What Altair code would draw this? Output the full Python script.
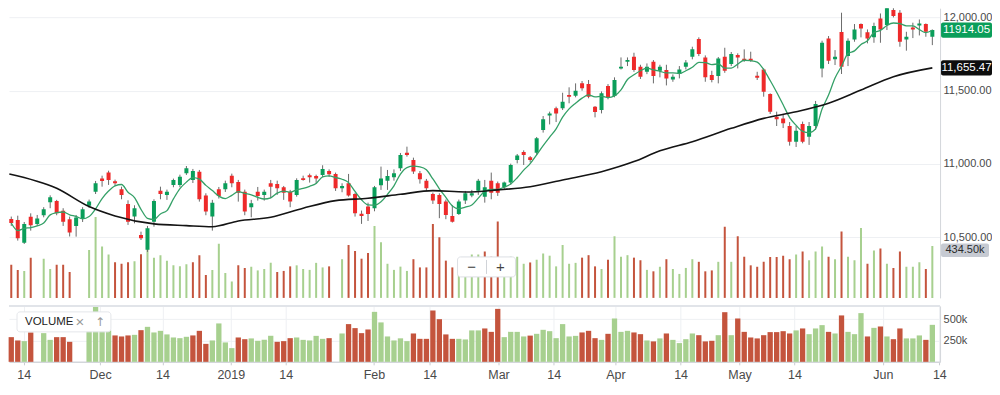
import altair as alt
import pandas as pd

# ---------------- data ----------------
opens = [10625, 10618, 10463, 10640, 10591, 10650, 10739, 10748, 10681, 10623,
         10577, 10625, 10714, 10811, 10900, 10941, 10882, 10827, 10727, 10641,
         10516, 10414, 10606, 10818, 10789, 10857, 10857, 10936, 10891, 10947,
         10784, 10641, 10827, 10827, 10920, 10877, 10811, 10705, 10811, 10789,
         10868, 10864, 10841, 10811, 10789, 10902, 10923, 10918, 10925, 10952,
         10932, 10834, 10868, 10795, 10661, 10709, 10698, 10855, 10886, 10909,
         10970, 11077, 11027, 10936, 10886, 10795, 10789, 10743, 10645, 10659,
         10750, 10784, 10818, 10777, 10886, 10868, 10841, 10873, 11027, 11082,
         11045, 11077, 11232, 11330, 11380, 11380, 11470, 11466, 11550, 11545,
         11390, 11368, 11532, 11464, 11652, 11697, 11732, 11663, 11629, 11697,
         11636, 11641, 11577, 11614, 11663, 11732, 11852, 11727, 11607, 11600,
         11732, 11682, 11743, 11718, 11718, 11602, 11645, 11477, 11323, 11311,
         11259, 11152, 11273, 11186, 11259, 11652, 11857, 11714, 11900, 11736,
         11850, 11955, 11898, 11864, 11993, 11948, 12050, 12032, 11850, 11932,
         11945, 11955, 11868]
highs = [10641, 10647, 10604, 10663, 10652, 10705, 10786, 10755, 10698, 10641,
         10652, 10705, 10757, 10884, 10920, 10954, 10893, 10845, 10752, 10718,
         10538, 10577, 10759, 10845, 10825, 10900, 10927, 10986, 10966, 10959,
         10800, 10755, 10843, 10886, 10934, 10891, 10825, 10755, 10843, 10825,
         10891, 10886, 10850, 10823, 10902, 10920, 10934, 10927, 10991, 10963,
         10941, 10868, 10932, 10804, 10682, 10736, 10850, 10982, 10959, 10963,
         11075, 11118, 11043, 10952, 10898, 10805, 10800, 10757, 10720, 10757,
         10816, 10823, 10898, 10891, 10941, 10880, 10880, 11002, 11068, 11093,
         11054, 11184, 11327, 11357, 11391, 11486, 11523, 11550, 11566, 11573,
         11395, 11495, 11545, 11591, 11727, 11727, 11759, 11677, 11686, 11709,
         11677, 11677, 11611, 11668, 11709, 11800, 11864, 11741, 11636, 11730,
         11793, 11764, 11755, 11782, 11766, 11629, 11652, 11482, 11357, 11339,
         11286, 11259, 11289, 11286, 11430, 11841, 11873, 11777, 12032, 11857,
         11955, 11959, 11918, 11964, 12027, 12091, 12084, 12050, 11902, 11964,
         11986, 11959, 11918]
lows = [10577, 10477, 10454, 10545, 10577, 10636, 10698, 10650, 10577, 10505,
        10504, 10604, 10700, 10795, 10845, 10857, 10850, 10759, 10584, 10595,
        10481, 10400, 10572, 10759, 10755, 10841, 10841, 10925, 10870, 10743,
        10650, 10545, 10764, 10809, 10841, 10743, 10650, 10636, 10750, 10750,
        10766, 10789, 10755, 10705, 10777, 10886, 10873, 10866, 10911, 10911,
        10816, 10807, 10777, 10641, 10591, 10611, 10677, 10823, 10823, 10886,
        10952, 11050, 10932, 10866, 10816, 10727, 10630, 10623, 10600, 10652,
        10727, 10773, 10789, 10736, 10759, 10782, 10827, 10859, 11004, 10993,
        11011, 11061, 11214, 11270, 11286, 11368, 11414, 11455, 11500, 11448,
        11318, 11345, 11441, 11455, 11645, 11668, 11629, 11580, 11613, 11550,
        11591, 11536, 11561, 11584, 11645, 11714, 11736, 11561, 11557, 11550,
        11622, 11668, 11652, 11697, 11697, 11573, 11459, 11341, 11259, 11245,
        11125, 11116, 11141, 11130, 11232, 11591, 11682, 11675, 11614, 11668,
        11834, 11864, 11823, 11827, 11827, 11914, 12000, 11800, 11773, 11859,
        11877, 11868, 11811]
closes = [10597, 10493, 10591, 10582, 10627, 10691, 10773, 10664, 10606, 10532,
          10634, 10691, 10743, 10868, 10884, 10891, 10868, 10788, 10606, 10698,
          10493, 10561, 10748, 10795, 10811, 10891, 10913, 10970, 10952, 10759,
          10675, 10736, 10782, 10868, 10868, 10804, 10675, 10732, 10782, 10811,
          10845, 10834, 10804, 10743, 10891, 10891, 10909, 10900, 10966, 10929,
          10834, 10850, 10784, 10664, 10645, 10659, 10841, 10900, 10918, 10936,
          11061, 11061, 10948, 10895, 10834, 10750, 10727, 10652, 10606, 10743,
          10800, 10800, 10886, 10841, 10804, 10804, 10873, 10993, 11057, 11061,
          11027, 11175, 11305, 11345, 11345, 11425, 11459, 11500, 11516, 11459,
          11354, 11482, 11455, 11573, 11663, 11709, 11641, 11595, 11663, 11600,
          11663, 11584, 11595, 11645, 11693, 11782, 11750, 11591, 11573, 11720,
          11636, 11750, 11727, 11705, 11705, 11588, 11493, 11357, 11305, 11277,
          11152, 11227, 11152, 11259, 11409, 11827, 11705, 11732, 11663, 11841,
          11918, 11925, 11857, 11941, 11918, 12084, 12009, 11834, 11868, 11918,
          11959, 11902, 11914.05]
volumes_k = [290, 251, 243, 345, 0, 337, 258, 290, 290, 235,
             0, 0, 404, 657, 430, 370, 310, 298, 310, 317,
             372, 411, 345, 364, 322, 286, 278, 294, 310, 364,
             211, 251, 451, 228, 161, 286, 266, 275, 247, 258,
             306, 235, 243, 278, 286, 258, 251, 305, 270, 278,
             0, 333, 443, 396, 337, 380, 587, 463, 298, 251,
             276, 243, 333, 270, 270, 603, 501, 322, 270, 270,
             263, 369, 369, 392, 352, 622, 290, 352, 352, 298,
             308, 329, 376, 360, 278, 443, 298, 305, 345, 364,
             278, 258, 329, 509, 352, 364, 345, 325, 251, 240,
             275, 333, 258, 220, 266, 333, 313, 240, 247, 313,
             583, 313, 509, 352, 286, 275, 313, 349, 349, 360,
             333, 369, 392, 325, 392, 431, 352, 333, 545, 352,
             325, 572, 298, 399, 415, 298, 266, 392, 275, 275,
             310, 258, 434.5]
vol_up = [0, 0, 1, 0, 1, 1, 1, 0, 0, 0,
          1, 1, 1, 1, 1, 1, 0, 0, 0, 1,
          0, 1, 1, 1, 1, 1, 1, 1, 0, 0,
          0, 1, 1, 1, 1, 0, 0, 1, 1, 1,
          1, 0, 0, 0, 1, 1, 1, 1, 1, 0,
          0, 1, 0, 0, 0, 0, 1, 1, 1, 1,
          1, 1, 0, 0, 0, 0, 0, 0, 0, 1,
          1, 1, 1, 0, 0, 0, 1, 1, 1, 1,
          0, 1, 1, 1, 1, 1, 1, 1, 0, 0,
          0, 1, 0, 1, 1, 1, 0, 0, 1, 0,
          1, 0, 1, 1, 1, 1, 0, 0, 0, 1,
          0, 1, 0, 0, 0, 0, 0, 0, 0, 0,
          0, 1, 0, 1, 1, 1, 0, 1, 0, 1,
          1, 1, 0, 1, 0, 1, 0, 0, 1, 1,
          1, 0, 1]
# long moving average (black line), read at sample bars
ma_long_idx = [-0.3, 7, 12, 16, 22, 27, 31, 35, 40, 45, 50, 55, 60, 65, 70,
               75, 80, 85, 91, 96, 100, 105, 111, 116, 121, 126, 131, 136, 142]
ma_long_val = [10932, 10834, 10709, 10645, 10591, 10579, 10572, 10611, 10636,
               10698, 10750, 10766, 10793, 10818, 10809, 10823, 10845, 10891,
               10947, 11016, 11090, 11152, 11243, 11311, 11356, 11414, 11504,
               11595, 11655.47]
tick_pos = [1.91, 13.71, 23.32, 33.84, 42.31, 55.91, 64.49, 75.12, 83.63,
            93.13, 103.19, 112.28, 120.75, 134.36, 143.08]
tick_labels = ["14", "Dec", "14", "2019", "14", "Feb", "14", "Mar", "14",
               "Apr", "14", "May", "14", "Jun", "14"]
price_ticks = [10500, 11000, 11500, 12000]
vol_ticks = [250, 500]
last_close = 11914.05
last_ma = 11655.47
last_vol = 434.5

# ---------------- styling ----------------
W, H1, H2 = 932, 290, 56
UP, DOWN = "#0a9e5a", "#ee2a2a"
VUP, VDOWN = "#a7d08f", "#c4543d"
WICK = "#6a6a6a"
GRID = "#eef0f3"
AXLINE = "#d3d6db"
FONT = "Liberation Sans"

n = len(closes)
df = pd.DataFrame({
    "i": list(range(n)), "open": opens, "high": highs, "low": lows,
    "close": closes, "vol": volumes_k,
    "vdir": ["up" if u else "down" for u in vol_up],
})
ma_df = pd.DataFrame({"i": ma_long_idx, "ma": ma_long_val})

xs = alt.Scale(domain=[-0.35, 143.19], nice=False, zero=False, padding=0)
ps = alt.Scale(domain=[10086, 12063], nice=False, zero=False)
vs_over = alt.Scale(domain=[36, 2260], nice=False, zero=False)
vs_bot = alt.Scale(domain=[0, 657], nice=False, zero=True)

lbl_expr = ("[" + ",".join(repr(s) for s in tick_labels) + "][indexof(["
            + ",".join(str(v) for v in tick_pos) + "], datum.value)]")

x_main = alt.X("i:Q", scale=xs, axis=alt.Axis(
    values=tick_pos, labels=False, ticks=False, grid=True, gridColor=GRID,
    domain=True, domainColor=AXLINE, domainWidth=1.5, title=None))
x_plain = alt.X("i:Q", scale=xs, axis=None)

base = alt.Chart(df)

vol_color = alt.condition("datum.vdir == 'up'", alt.value(VUP), alt.value(VDOWN))

# volume overlay inside main panel
vol_over = base.transform_filter("datum.vol > 0").mark_bar(size=2, clip=True).encode(
    x=x_main,
    y=alt.Y("vol:Q", scale=vs_over, axis=None),
    y2=alt.Y2(datum=36),
    color=vol_color,
)
gray_tag = alt.Chart(pd.DataFrame({"v": [last_vol], "t": [f"{last_vol:.2f}k"]}))
gray_rect = gray_tag.transform_calculate(lo="datum.v - 85", hi="datum.v + 20").mark_rect(
    color="#c6cad2", cornerRadius=2).encode(
    x=alt.value(W + 1), x2=alt.value(W + 49),
    y=alt.Y("lo:Q", scale=vs_over, axis=None), y2="hi:Q")
gray_text = gray_tag.mark_text(align="center", baseline="middle", font=FONT,
                               fontSize=11, color="#2b2b2b", dy=4).encode(
    x=alt.value(W + 25), y=alt.Y("v:Q", scale=vs_over, axis=None), text="t:N")
vol_layer = alt.layer(vol_over, gray_rect, gray_text)

# price layers
wick = base.mark_rule(color=WICK, strokeWidth=1, clip=True).encode(
    x=x_plain,
    y=alt.Y("low:Q", scale=ps, axis=alt.Axis(
        orient="right", values=price_ticks, format=",.2f", grid=True,
        gridColor=GRID, ticks=False, domain=True, domainColor=AXLINE,
        labelPadding=3, labelFontSize=11, title=None)),
    y2="high:Q",
)
body = base.mark_bar(size=4, clip=True).encode(
    x=x_plain, y=alt.Y("open:Q", scale=ps), y2="close:Q",
    color=alt.condition("datum.close >= datum.open", alt.value(UP), alt.value(DOWN)),
)
ma5 = base.transform_window(
    ma5="mean(close)", frame=[-4, 0], sort=[alt.SortField("i")]
).mark_line(color="#34a067", strokeWidth=1.3, interpolate="monotone", clip=True).encode(
    x=x_plain, y=alt.Y("ma5:Q", scale=ps))
ma_long = alt.Chart(ma_df).mark_line(color="#141414", strokeWidth=1.6,
                                      interpolate="monotone", clip=True).encode(
    x=x_plain, y=alt.Y("ma:Q", scale=ps))

def price_tag(val, txt, fill, fg):
    d = alt.Chart(pd.DataFrame({"v": [val], "t": [txt]}))
    r = d.transform_calculate(lo="datum.v - 52", hi="datum.v + 52").mark_rect(
        color=fill, cornerRadius=2).encode(
        x=alt.value(W + 1), x2=alt.value(W + 52),
        y=alt.Y("lo:Q", scale=ps), y2="hi:Q")
    t = d.mark_text(align="center", baseline="middle", font=FONT, fontSize=11.5,
                    color=fg).encode(
        x=alt.value(W + 26.5), y=alt.Y("v:Q", scale=ps), text="t:N")
    return r + t

price_layer = alt.layer(
    wick, body, ma5, ma_long,
    price_tag(last_close, f"{last_close:.2f}", "#0a9e5a", "white"),
    price_tag(last_ma, f"{last_ma:,.2f}", "#0d0d0d", "white"),
)

# zoom control widget
one = alt.Chart(pd.DataFrame({"k": [0]}))
zbox = one.mark_rect(fill="white", stroke="#dcdfe4", strokeWidth=1, cornerRadius=3).encode(
    x=alt.value(449), x2=alt.value(507), y=alt.value(249), y2=alt.value(269))
zsep = one.mark_rule(color="#d0d3d8").encode(
    x=alt.value(478), y=alt.value(252), y2=alt.value(266))
zminus = one.mark_text(text="−", fontSize=15, color="#444", font=FONT).encode(
    x=alt.value(463), y=alt.value(259.5))
zplus = one.mark_text(text="+", fontSize=15, color="#444", font=FONT).encode(
    x=alt.value(492), y=alt.value(259.5))
ctrl = alt.layer(zbox, zsep, zminus, zplus)

main = alt.layer(vol_layer, price_layer, ctrl).resolve_scale(y="independent").properties(
    width=W, height=H1)

# bottom volume panel
vol_bot = base.transform_filter("datum.vol > 0").mark_bar(size=5.3).encode(
    x=alt.X("i:Q", scale=xs, axis=alt.Axis(
        values=tick_pos, labelExpr=lbl_expr, grid=True, gridColor=GRID,
        tickSize=3, tickColor="#c9ccd1", domainColor=AXLINE, domainWidth=1.5,
        labelFontSize=12.5, labelPadding=4, labelOverlap=False,
        labelFlush=False, title=None)),
    y=alt.Y("vol:Q", scale=vs_bot, axis=alt.Axis(
        orient="right", values=vol_ticks, labelExpr="datum.value + 'k'",
        grid=True, gridColor=GRID, ticks=False, domainColor=AXLINE,
        labelPadding=3, labelFontSize=11, title=None)),
    color=vol_color,
)
top_rule = one.mark_rule(color="#e1e4e9", strokeWidth=2).encode(
    x=alt.value(0), x2=alt.value(W), y=alt.value(0))
lbox = one.mark_rect(fill="white", stroke="#e4e6ea", strokeWidth=1, cornerRadius=3).encode(
    x=alt.value(8), x2=alt.value(102), y=alt.value(6), y2=alt.value(26))
ltext = one.mark_text(text="VOLUME", align="left", baseline="middle", font=FONT,
                      fontSize=11.5, fontWeight=500, color="#222").encode(
    x=alt.value(16), y=alt.value(16.5))
lx = one.mark_text(text="×", align="center", baseline="middle", font=FONT,
                   fontSize=15, color="#9a9a9a").encode(x=alt.value(71), y=alt.value(16))
lup = one.mark_text(text="↑", align="center", baseline="middle", font="DejaVu Sans",
                    fontSize=12, color="#9a9a9a").encode(x=alt.value(91), y=alt.value(16))

bottom = alt.layer(vol_bot, top_rule, lbox, ltext, lx, lup).properties(width=W, height=H2)

chart = alt.vconcat(main, bottom, spacing=7).properties(
    padding=0, background="white"
).configure_view(stroke=None).configure_axis(
    labelFont=FONT, labelColor="#4a4a4a"
)

chart.save("out.html", embed_options={"renderer": "svg", "actions": False})
